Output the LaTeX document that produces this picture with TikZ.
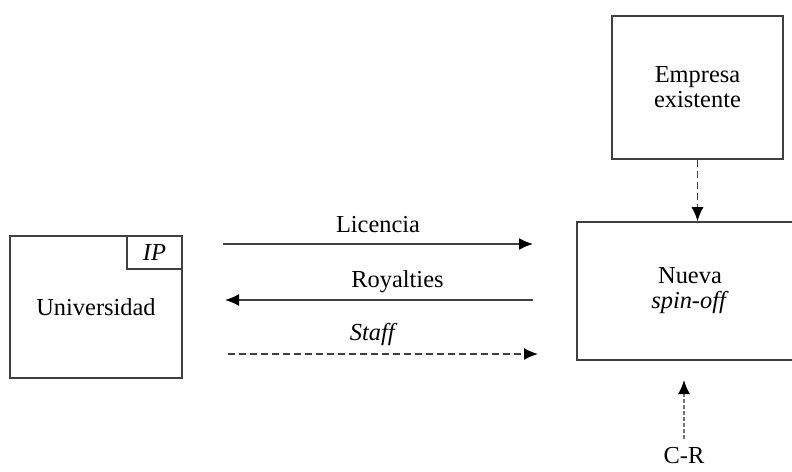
\documentclass[tikz,border=0pt]{standalone}
\usepackage{fontspec}
\setmainfont{Liberation Serif}
\usetikzlibrary{positioning,arrows.meta}
\tikzset{basic/.style={draw=black!75,line width=0.8pt}}
\tikzset{caja/.style={basic,rectangle,align=center}}
\tikzset{flecha/.style={draw=black!75,line width=0.8pt,-{Latex[length=7pt,width=6pt,color=black]}}}
\tikzset{flechadash/.style={flecha,dash pattern=on 3.5pt off 2pt}}
\tikzset{flechapunto/.style={flecha,draw=black!55,dash pattern=on 2pt off 1pt}}
\tikzset{etiqueta/.style={anchor=base,inner sep=0pt}}

\begin{document}
\begin{tikzpicture}[x=0.5pt,y=-0.5pt,font=\fontsize{12.2}{12.5}\selectfont]
		\useasboundingbox (0,0) rectangle (792,471);
		% boxes
		\node[caja,minimum width=86pt,minimum height=71pt] (univ) at (96,307) {Universidad};
		\node[caja,minimum width=27.5pt,minimum height=16.5pt,anchor=north east] (ip) at (univ.north east) {\textit{IP}};
		\node[caja,minimum width=85.5pt,minimum height=71.5pt] (empresa) at (697.5,87.5) {Empresa\\existente};
		\node[caja,minimum width=113pt,minimum height=69pt] (nueva) at (690,291) {Nueva\\\textit{spin-off}};
		\node[inner sep=4pt] (cr) at (684,456) {C-R};
		% flows
		\coordinate (lic1) at (223,244);
		\coordinate (lic2) at (533,244);
		\coordinate (roy1) at (533,300);
		\coordinate (roy2) at (225,300);
		\coordinate (sta1) at (228,354);
		\coordinate (sta2) at (538,354);
		\coordinate (crtip) at (684,380);
		\path[flecha] (lic1) -- (lic2) node[etiqueta,pos=0.5,yshift=6pt] {Licencia};
		\path[flecha] (roy1) -- (roy2) node[etiqueta,pos=0.44,yshift=6.5pt] {Royalties};
		\path[flechadash] (sta1) -- (sta2) node[etiqueta,pos=0.47,yshift=7pt] {\textit{Staff}};
		\path[flechadash] (empresa) -- (empresa |- nueva.north);
		\path[flechapunto] (cr.north) -- (crtip);
	\end{tikzpicture}
\end{document}
